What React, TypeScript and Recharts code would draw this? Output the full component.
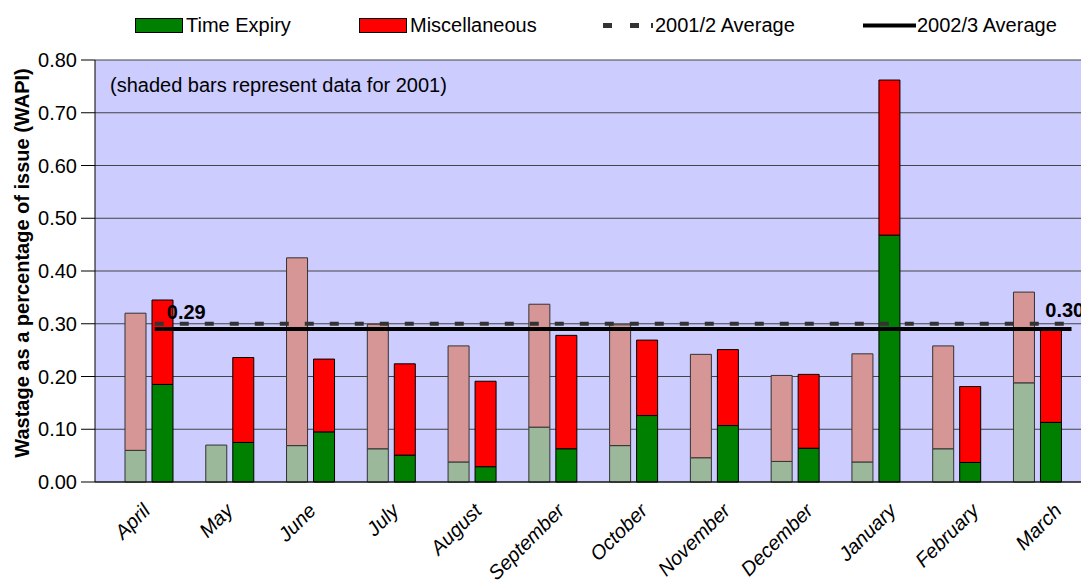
import React from 'react';
import { ComposedChart, Bar, XAxis, YAxis, CartesianGrid, ReferenceLine } from 'recharts';

// Monthly wastage as a percentage of issue (WAPI)
const months = ['April', 'May', 'June', 'July', 'August', 'September', 'October', 'November', 'December', 'January', 'February', 'March'];

// 2001 (shaded bars)
const expiry2001 = [0.06, 0.07, 0.069, 0.063, 0.038, 0.104, 0.069, 0.046, 0.039, 0.038, 0.063, 0.188];
const misc2001 = [0.26, 0.0, 0.356, 0.236, 0.22, 0.233, 0.229, 0.196, 0.163, 0.205, 0.195, 0.172];

// 2002 (solid bars)
const expiry2002 = [0.185, 0.075, 0.095, 0.051, 0.029, 0.063, 0.126, 0.107, 0.064, 0.468, 0.037, 0.113];
const misc2002 = [0.16, 0.161, 0.138, 0.173, 0.162, 0.215, 0.143, 0.144, 0.14, 0.294, 0.144, 0.176];

const yTicks = [0, 0.1, 0.2, 0.3, 0.4, 0.5, 0.6, 0.7, 0.8];

const avg2001 = 0.3; // 2001/2 Average
const avg2002 = 0.29; // 2002/3 Average

// extent of the average lines along the band axis (in category units)
const avgStart = 0.74;
const avgEnd = 12.09;

const FONT = '"Liberation Sans", Arial, Helvetica, sans-serif';
const FS = 20;

const data = months.map((m, i) => ({
  month: m,
  pad: 0,
  te01: expiry2001[i],
  mi01: misc2001[i],
  te02: expiry2002[i],
  mi02: misc2002[i],
}));
// trailing empty band so the plot runs past the last month
data.push({ month: '', pad: 0, te01: 0, mi01: 0, te02: 0, mi02: 0 });

const MonthTick = (props: any) => {
  const { x, y, payload, index } = props;
  if (!payload || !payload.value) return null;
  const ax = x + 16 + index * 2.1;
  const ay = y + 30;
  return (
    <text
      transform={`translate(${ax},${ay}) rotate(-45)`}
      textAnchor="end"
      fontStyle="italic"
      fontSize={FS}
      fontFamily={FONT}
      fill="#000"
    >
      {payload.value}
    </text>
  );
};

const avgLabel = (text: string, dx: (vb: any) => number, dy: number) => (props: any) => {
  const vb = props.viewBox || {};
  return (
    <text x={dx(vb)} y={(vb.y || 0) + dy} fontSize={FS} fontWeight="bold" fontFamily={FONT} fill="#000">
      {text}
    </text>
  );
};

const Overlay = () => (
  <svg width={1081} height={581} style={{ position: 'absolute', left: 0, top: 0, pointerEvents: 'none' }}>
    <g fontFamily={FONT} fontSize={FS} fill="#000">
      <rect x={135.5} y={18.5} width={47} height={14} fill="#008000" stroke="#000" strokeWidth={1} />
      <text x={186} y={32}>Time Expiry</text>
      <rect x={359.5} y={18.5} width={47} height={14} fill="#FF0000" stroke="#000" strokeWidth={1} />
      <text x={410} y={32}>Miscellaneous</text>
      <line x1={603} y1={25.5} x2={640} y2={25.5} stroke="#333" strokeWidth={5} strokeDasharray="9 18" />
      <line x1={651} y1={25.5} x2={653} y2={25.5} stroke="#333" strokeWidth={5} />
      <text x={655} y={32}>2001/2 Average</text>
      <line x1={863} y1={25.5} x2={916} y2={25.5} stroke="#000" strokeWidth={4} />
      <text x={917} y={32}>2002/3 Average</text>
    </g>
    <text x={110} y={92} fontFamily={FONT} fontSize={FS} fill="#000">(shaded bars represent data for 2001)</text>
    <text
      transform="translate(22,263) rotate(-90)"
      textAnchor="middle"
      dominantBaseline="central"
      fontFamily={FONT}
      fontSize={FS}
      fontWeight="bold"
      fill="#000"
    >
      Wastage as a percentage of issue (WAPI)
    </text>
  </svg>
);

export default function App() {
  return (
    <div style={{ position: 'absolute', left: 0, top: 0, width: 1081, height: 581, overflow: 'hidden', background: '#fff' }}>
      <ComposedChart
        width={1145}
        height={581}
        data={data}
        margin={{ top: 60, right: 0, bottom: 0, left: 0 }}
        barSize={21}
        barGap={6}
      >
        <CartesianGrid horizontal vertical={false} fill="#CCCCFF" stroke="#444" strokeWidth={1} />
        <XAxis
          dataKey="month"
          xAxisId={0}
          height={99}
          interval={0}
          tickLine={false}
          tickSize={0}
          tickMargin={0}
          tick={<MonthTick />}
          axisLine={{ stroke: '#000', strokeWidth: 1 }}
        />
        <XAxis xAxisId="avg" dataKey="pad" type="number" domain={[0, 13]} allowDataOverflow hide />
        <YAxis
          width={95}
          domain={[0, 0.8]}
          ticks={yTicks}
          interval={0}
          tickFormatter={(v: number) => v.toFixed(2)}
          tick={{ fontSize: FS, fill: '#000', fontFamily: FONT }}
          tickSize={14}
          tickMargin={4}
          tickLine={{ stroke: '#000' }}
          axisLine={{ stroke: '#000', strokeWidth: 1 }}
        />
        <Bar dataKey="pad" stackId="pad" fill="none" isAnimationActive={false} />
        <Bar dataKey="te01" stackId="y2001" fill="#9BB89B" stroke="#333" strokeWidth={1} isAnimationActive={false} />
        <Bar dataKey="mi01" stackId="y2001" fill="#D69696" stroke="#333" strokeWidth={1} isAnimationActive={false} />
        <Bar dataKey="te02" stackId="y2002" fill="#008000" stroke="#000" strokeWidth={1} isAnimationActive={false} />
        <Bar dataKey="mi02" stackId="y2002" fill="#FF0000" stroke="#000" strokeWidth={1} isAnimationActive={false} />
        <ReferenceLine
          xAxisId="avg"
          segment={[{ x: avgStart, y: avg2001 }, { x: avgEnd - 0.04, y: avg2001 }]}
          stroke="#333"
          strokeWidth={4}
          strokeDasharray="9 16"
          label={avgLabel('0.30', (vb) => (vb.x || 0) + (vb.width || 0) - 23, -7)}
        />
        <ReferenceLine
          xAxisId="avg"
          segment={[{ x: avgStart, y: avg2002 }, { x: avgEnd, y: avg2002 }]}
          stroke="#000"
          strokeWidth={4}
          label={avgLabel('0.29', (vb) => (vb.x || 0) + 12, -10)}
        />
      </ComposedChart>
      <Overlay />
    </div>
  );
}
